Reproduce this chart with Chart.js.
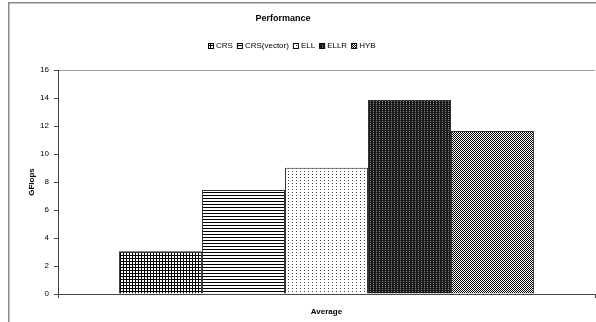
<!DOCTYPE html>
<html>
<head>
<meta charset="utf-8">
<script src="https://cdn.jsdelivr.net/npm/chart.js@4/dist/chart.umd.min.js"></script>
<style>
  html, body { margin: 0; padding: 0; background: #fff; }
  #wrap { width: 596px; height: 322px; position: relative; }
</style>
</head>
<body>
<div id="wrap"><canvas id="c" width="596" height="322"></canvas></div>
<script>
// Average performance per sparse matrix storage format
const categories = ['Average'];
const seriesNames = ['CRS', 'CRS(vector)', 'ELL', 'ELLR', 'HYB'];
const crsValues = [3.05];
const crsVectorValues = [7.43];
const ellValues = [9.02];
const ellrValues = [13.86];
const hybValues = [11.64];
const yTicks = [0, 2, 4, 6, 8, 10, 12, 14, 16];

const FONT = '"Liberation Sans", Arial, sans-serif';

// Monochrome fill patterns, built from tiny tiles
function tile(w, h, paint) {
  const cv = document.createElement('canvas');
  cv.width = w; cv.height = h;
  const g = cv.getContext('2d');
  paint(g);
  return document.getElementById('c').getContext('2d').createPattern(cv, 'repeat');
}
const patGrid = tile(3, 3, g => {
  g.fillStyle = '#fff'; g.fillRect(0, 0, 3, 3);
  g.fillStyle = '#000'; g.fillRect(0, 0, 3, 1); g.fillRect(0, 0, 1, 3);
});
const patHLines = tile(3, 3, g => {
  g.fillStyle = '#fff'; g.fillRect(0, 0, 3, 3);
  g.fillStyle = '#000'; g.fillRect(0, 0, 3, 1);
});
const patDots = tile(4, 3, g => {
  g.fillStyle = '#fff'; g.fillRect(0, 0, 4, 3);
  g.fillStyle = '#444'; g.fillRect(0, 0, 1, 1);
});
const patDark = tile(3, 2, g => {
  g.fillStyle = '#1a1a1a'; g.fillRect(0, 0, 3, 2);
  g.fillStyle = '#8a8a8a'; g.fillRect(1, 1, 1, 1);
});
const patChecker = tile(2, 2, g => {
  g.fillStyle = '#fff'; g.fillRect(0, 0, 2, 2);
  g.fillStyle = '#000'; g.fillRect(0, 0, 1, 1); g.fillRect(1, 1, 1, 1);
});
const fills = [patGrid, patHLines, patDots, patDark, patChecker];
const seriesData = [crsValues, crsVectorValues, ellValues, ellrValues, hybValues];

// Outer frame, title, legend and rotated axis title
const decor = {
  id: 'decor',
  beforeDraw(chart) {
    const ctx = chart.ctx;
    ctx.save();
    ctx.fillStyle = '#fff';
    ctx.fillRect(0, 0, chart.width, chart.height);
    ctx.strokeStyle = '#8c8c8c';
    ctx.lineWidth = 1.5;
    ctx.strokeRect(8.75, 2.75, 640, 400);
    ctx.restore();
  },
  afterDraw(chart) {
    const ctx = chart.ctx;
    ctx.save();
    ctx.fillStyle = '#000';
    ctx.textBaseline = 'middle';
    ctx.textAlign = 'center';
    ctx.font = 'bold 9px ' + FONT;
    ctx.fillText('Performance', 283, 19);

    // legend
    ctx.font = '8px ' + FONT;
    ctx.textAlign = 'left';
    const gap = 4, box = 5;
    const items = chart.data.datasets.map(d => ({ label: d.label, fill: d.backgroundColor }));
    let total = 0;
    items.forEach((it, i) => {
      it.w = box + 3 + ctx.measureText(it.label).width;
      total += it.w + (i ? gap : 0);
    });
    let x = Math.round(292 - total / 2);
    const y = 46;
    items.forEach(it => {
      ctx.fillStyle = it.fill;
      ctx.fillRect(x, y - 3, box, box);
      ctx.strokeStyle = '#000';
      ctx.lineWidth = 1;
      ctx.strokeRect(x + 0.5, y - 2.5, box, box);
      ctx.fillStyle = '#000';
      ctx.fillText(it.label, x + box + 3, y);
      x += it.w + gap;
    });

    // y axis title
    ctx.font = 'bold 8px ' + FONT;
    ctx.translate(32, (chart.chartArea.top + chart.chartArea.bottom) / 2);
    ctx.rotate(-Math.PI / 2);
    ctx.textAlign = 'center';
    ctx.fillText('GFlops', 0, 0);
    ctx.restore();
  }
};

new Chart(document.getElementById('c'), {
  type: 'bar',
  data: {
    labels: categories,
    datasets: seriesNames.map((name, i) => ({
      label: name,
      data: seriesData[i],
      backgroundColor: fills[i],
      borderColor: '#333',
      borderWidth: 1,
      categoryPercentage: 0.773,
      barPercentage: 1.0
    }))
  },
  options: {
    responsive: false,
    animation: false,
    devicePixelRatio: 1,
    layout: { padding: { left: 0, right: 1, top: 70, bottom: 0 } },
    plugins: {
      legend: { display: false },
      title: { display: false },
      tooltip: { enabled: false }
    },
    scales: {
      x: {
        afterFit(s) { s.height = 28; },
        border: { display: true, color: '#444', width: 1 },
        grid: {
          offset: true,
          drawOnChartArea: false,
          drawTicks: true,
          tickLength: 4,
          color: '#444'
        },
        ticks: {
          color: '#000',
          padding: 9,
          font: { family: FONT, size: 8, weight: 'bold' }
        }
      },
      y: {
        min: 0,
        max: 16,
        afterFit(s) { s.width = 58; },
        afterBuildTicks(s) { s.ticks = yTicks.map(v => ({ value: v })); },
        border: { display: true, color: '#444', width: 1 },
        grid: {
          drawOnChartArea: true,
          drawTicks: true,
          tickLength: 4,
          tickColor: '#444',
          color: ctx => (ctx.tick && ctx.tick.value === 16 ? '#a0a0a0' : 'rgba(0,0,0,0)')
        },
        ticks: {
          color: '#000',
          padding: 5,
          font: { family: FONT, size: 8 }
        }
      }
    }
  },
  plugins: [decor]
});
</script>
</body>
</html>
